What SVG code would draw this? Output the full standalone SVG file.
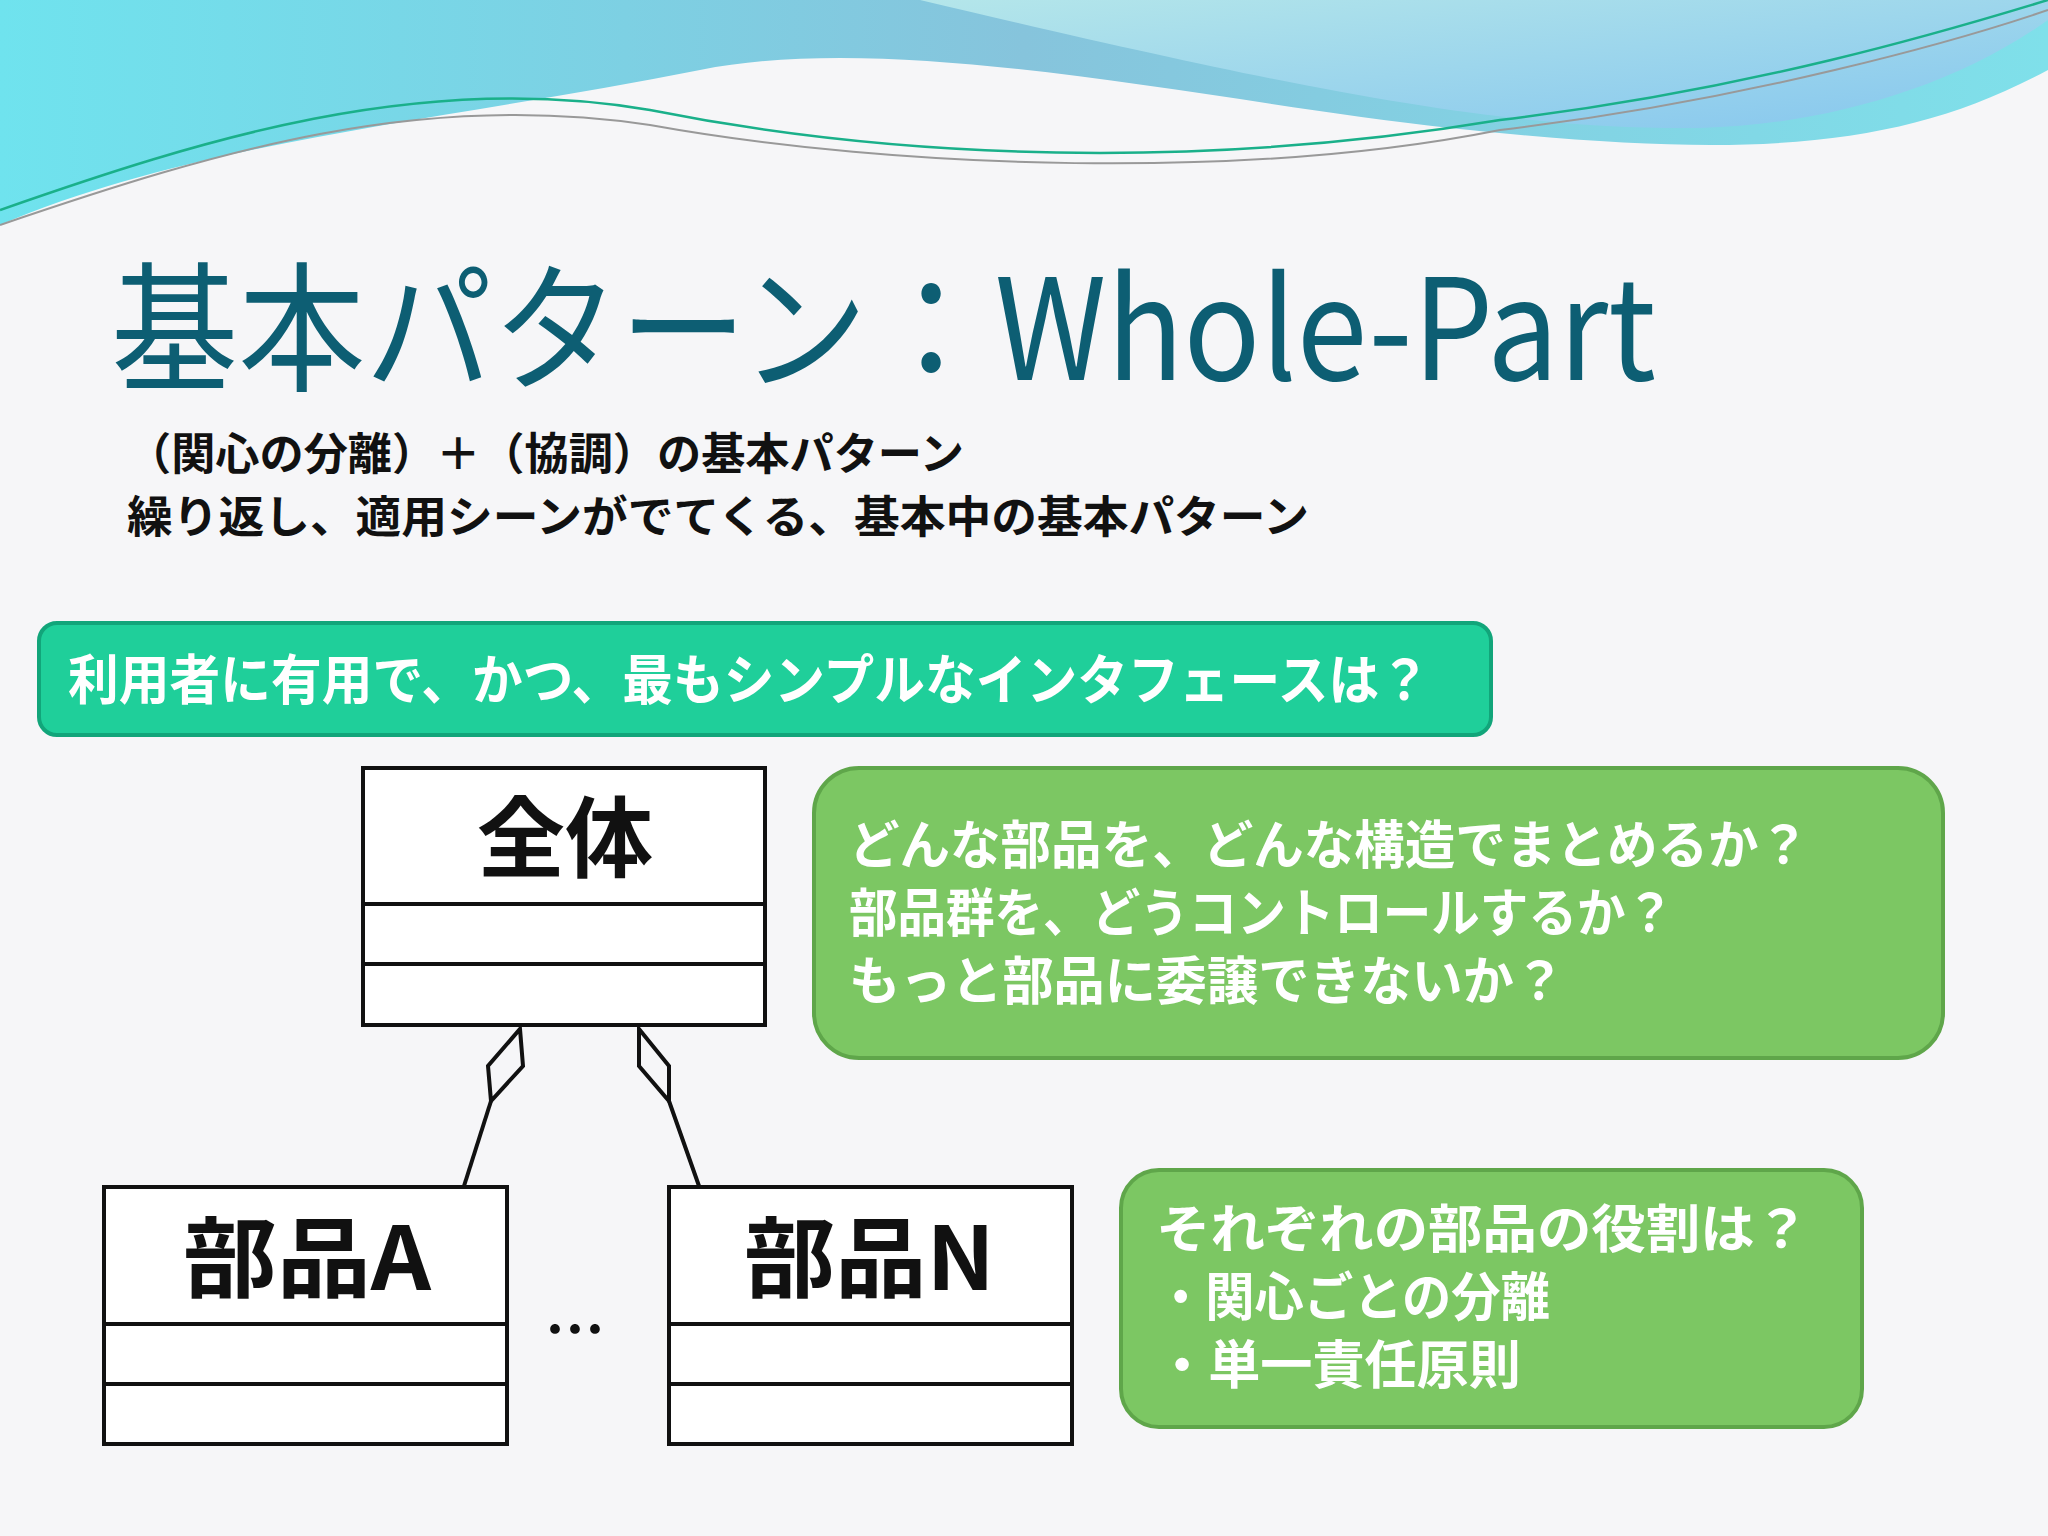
<svg xmlns="http://www.w3.org/2000/svg" width="2048" height="1536" viewBox="0 0 2048 1536">
<defs>
<linearGradient id="w1" x1="0" y1="0" x2="1" y2="0"><stop offset="0" stop-color="#6fe3ee"/><stop offset="0.5" stop-color="#86c4dc"/><stop offset="1" stop-color="#7fe0ea"/></linearGradient>
<linearGradient id="w2" x1="0" y1="0" x2="1" y2="1"><stop offset="0" stop-color="#b4e6ea"/><stop offset="1" stop-color="#86c6ee"/></linearGradient>
<style>
.t{font-family:"Noto Sans CJK JP",sans-serif;font-weight:bold;fill:#111}
.w{font-family:"Noto Sans CJK JP",sans-serif;font-weight:bold;fill:#fff}
.box{fill:#fff;stroke:#111;stroke-width:4}
.ln{stroke:#111;stroke-width:4;fill:none}
.g{fill:#7cc763;stroke:#5fa64a;stroke-width:4}
</style>
</defs>
<rect width="2048" height="1536" fill="#f6f6f8"/>
<g id="bg">
<path d="M0 0 H2048 V70 C1900 150 1750 160 1450 128 C1200 100 900 30 700 70 C450 120 200 140 0 225 Z" fill="url(#w1)"/>
<path d="M920 0 H2048 V20 C1950 90 1820 125 1700 128 C1500 130 1300 90 920 0 Z" fill="url(#w2)"/>
<path d="M0 210 C200 140 420 70 650 110 C900 160 1200 170 1500 120 C1750 90 1950 30 2048 0" stroke="#1ab08a" stroke-width="2.5" fill="none"/>
<path d="M0 225 C220 150 420 90 650 125 C900 170 1250 180 1500 130 C1750 100 1960 40 2048 10" stroke="#999" stroke-width="2" fill="none"/>
</g>
<g id="title">
<text x="111" y="380" font-family="'Noto Sans CJK JP',sans-serif" font-size="140" fill="#0d5e73" textLength="1545" lengthAdjust="spacingAndGlyphs">基本パターン：Whole-Part</text>
</g>
<g id="subtitle">
<text class="t" x="127" y="470" font-size="44" textLength="837" lengthAdjust="spacingAndGlyphs">（関心の分離）＋（協調）の基本パターン</text>
<text class="t" x="127" y="533" font-size="44" textLength="1182" lengthAdjust="spacingAndGlyphs">繰り返し、適用シーンがでてくる、基本中の基本パターン</text>
</g>
<g id="question">
<rect x="39" y="623" width="1452" height="112" rx="18" fill="#1fcf9a" stroke="#12a57a" stroke-width="4"/>
<text class="w" x="68" y="700" font-size="54" textLength="1362" lengthAdjust="spacingAndGlyphs">利用者に有用で、かつ、最もシンプルなインタフェースは？</text>
</g>
<g id="whole">
<rect class="box" x="363" y="768" width="402" height="257"/>
<line class="ln" x1="363" y1="904" x2="765" y2="904"/>
<line class="ln" x1="363" y1="964" x2="765" y2="964"/>
<text class="t" x="477" y="870" font-size="88" textLength="176" lengthAdjust="spacingAndGlyphs">全体</text>
</g>
<g id="partA">
<rect class="box" x="104" y="1187" width="403" height="257"/>
<line class="ln" x1="104" y1="1324" x2="507" y2="1324"/>
<line class="ln" x1="104" y1="1384" x2="507" y2="1384"/>
<text class="t" x="183" y="1290" font-size="88" textLength="248" lengthAdjust="spacingAndGlyphs">部品A</text>
</g>
<g id="partN">
<rect class="box" x="669" y="1187" width="403" height="257"/>
<line class="ln" x1="669" y1="1324" x2="1072" y2="1324"/>
<line class="ln" x1="669" y1="1384" x2="1072" y2="1384"/>
<text class="t" x="744" y="1290" font-size="88" textLength="251" lengthAdjust="spacingAndGlyphs">部品N</text>
</g>
<g id="dots"><text class="t" x="545" y="1352" font-size="60" textLength="90" lengthAdjust="spacing">…</text></g>
<g id="connectors">
<path class="ln" d="M520 1029 L523 1066 L491 1101 L488 1066 Z" fill="#fff"/>
<line class="ln" x1="491" y1="1101" x2="464" y2="1186"/>
<path class="ln" d="M639 1029 L669 1066 L669 1101 L639 1066 Z" fill="#fff"/>
<line class="ln" x1="669" y1="1101" x2="699" y2="1186"/>
</g>
<g id="note1">
<rect class="g" x="814" y="768" width="1129" height="290" rx="45"/>
<text class="w" x="849" y="864" font-size="52" textLength="960" lengthAdjust="spacingAndGlyphs">どんな部品を、どんな構造でまとめるか？</text>
<text class="w" x="849" y="932" font-size="52" textLength="825" lengthAdjust="spacingAndGlyphs">部品群を、どうコントロールするか？</text>
<text class="w" x="849" y="1000" font-size="52" textLength="716" lengthAdjust="spacingAndGlyphs">もっと部品に委譲できないか？</text>
</g>
<g id="note2">
<rect class="g" x="1121" y="1170" width="741" height="257" rx="38"/>
<text class="w" x="1156" y="1248" font-size="52" textLength="653" lengthAdjust="spacingAndGlyphs">それぞれの部品の役割は？</text>
<text class="w" x="1156" y="1316" font-size="52" textLength="394" lengthAdjust="spacingAndGlyphs">・関心ごとの分離</text>
<text class="w" x="1156" y="1384" font-size="52" textLength="365" lengthAdjust="spacingAndGlyphs">・単一責任原則</text>
</g>
</svg>
